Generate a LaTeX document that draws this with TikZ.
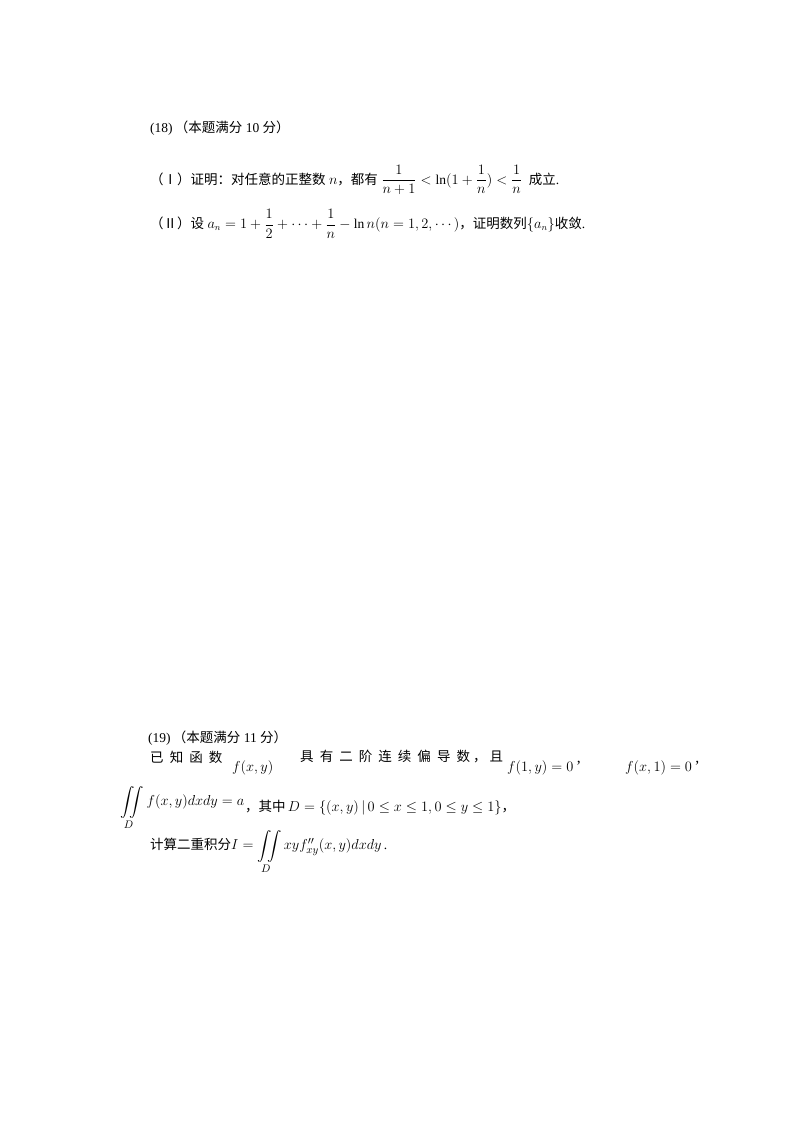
\documentclass[tikz,border=0pt]{standalone}
\usepackage{amsmath}
\usepackage{fontspec}
\setmainfont{Liberation Serif}
\newfontfamily\cjk{Noto Sans CJK SC}
\begin{document}
\begin{tikzpicture}[x=1pt,y=-1pt,
  t/.style={anchor=west,inner sep=0pt,font=\fontsize{13.5}{16}\selectfont},
  m/.style={anchor=west,inner sep=0pt,font=\fontsize{15.5}{18}\selectfont}]
\useasboundingbox[fill=white] (0,0) rectangle (800,1132);
\node[t] (a) at (150,128) {(18)\,{\cjk（本题满分} 10 {\cjk 分）}};
\node[t] (b) at (150,180) {{\cjk（Ⅰ）证明：对任意的正整数} $n${\cjk ，都有} $\dfrac{1}{n+1}<\ln(1+\dfrac{1}{n})<\dfrac{1}{n}$ \ {\cjk 成立}.};
\node[t] (c) at (150,224) {{\cjk（Ⅱ）设} $a_n=1+\dfrac12+\cdots+\dfrac1n-\ln n(n=1,2,\cdots)${\cjk ，证明数列}$\left\{a_n\right\}${\cjk 收敛}.};
\node[t] (d) at (148,738) {(19)\,{\cjk（本题满分} 11 {\cjk 分）}};
\node[t] (e) at (150,757) {\cjk 已\ \ 知\ \ 函\ \ 数};
\node[m] (f) at (232,768) {$f(x,y)$};
\node[t] (g) at (300,757) {\cjk 具\ \ 有\ \ 二\ \ 阶\ \ 连\ \ 续\ \ 偏\ \ 导\ \ 数\ ，\ 且};
\node[m] (h) at (507,768) {$f(1,y)=0$\,'};
\node[m] (i) at (625,768) {$f(x,1)=0$\,'};
\node[m] (j) at (120,808) {$\displaystyle\iint\limits_D f(x,y)dxdy=a$};
\node[t] (k) at (245,808) {{\cjk ，其中}\,{\fontsize{15.5}{18}\selectfont$D=\left\{(x,y)\,|\,0\le x\le 1,0\le y\le 1\right\}$}{\cjk ，}};
\node[t] (l) at (150,852) {{\cjk 计算二重积分}{\fontsize{15.5}{18}\selectfont$\displaystyle I=\iint\limits_D xyf''_{xy}(x,y)dxdy$}\,.};
\end{tikzpicture}
\end{document}
